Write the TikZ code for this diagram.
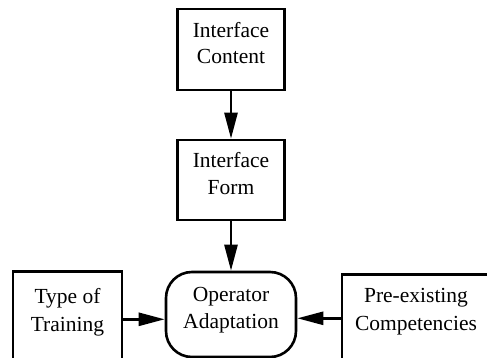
\documentclass[tikz,border=0pt]{standalone}
\usepackage{fontspec}
\setmainfont{Liberation Serif}
\usetikzlibrary{positioning,arrows.meta}

\tikzset{
  block/.style={draw, line width=2.6pt, align=center, inner sep=0pt, text depth=13pt,
    font=\fontsize{21.5}{26.5}\selectfont},
  rblock/.style={block, rounded corners=26pt},
  boxtext/.style={align=center, inner sep=0pt, font=\fontsize{21.5}{28}\selectfont},
  feed/.style={line width=2.6pt, -{Triangle[length=26pt,width=13pt]}},
}

\begin{document}
\begin{tikzpicture}[x=1pt,y=-1pt]
  \useasboundingbox (0,0) rectangle (487,358);
  \clip (0,0) rectangle (487,358);

  % the chain down the middle
  \node[block, minimum width=107pt, minimum height=81pt] (content) at (231,49.5) {Interface\\Content};
  \node[block, minimum width=107pt, minimum height=80pt] (form) at (231,180) {Interface\\Form};
  \node[rblock, minimum width=130pt, minimum height=85pt] (adapt) at (231,314.5) {Operator\\Adaptation};

  % side boxes run on past the lower edge
  \node[block, minimum width=109pt, minimum height=96pt, anchor=north] (training) at (67.5,270) {};
  \node[block, minimum width=148pt, minimum height=88pt, anchor=north] (compet) at (416,273) {};
  \node[boxtext, below=18pt of training.north] (trainingtxt) {Type of\\Training};
  \node[boxtext, below=15pt of compet.north] (competxt) {Pre-existing\\Competencies};

  \draw[feed] (content) -- (form);
  \draw[feed] (form) -- (adapt);
  \draw[feed] (training.east) -- (training.east -| adapt.west);
  \draw[feed] (compet.west) -- (compet.west -| adapt.east);
\end{tikzpicture}
\end{document}
